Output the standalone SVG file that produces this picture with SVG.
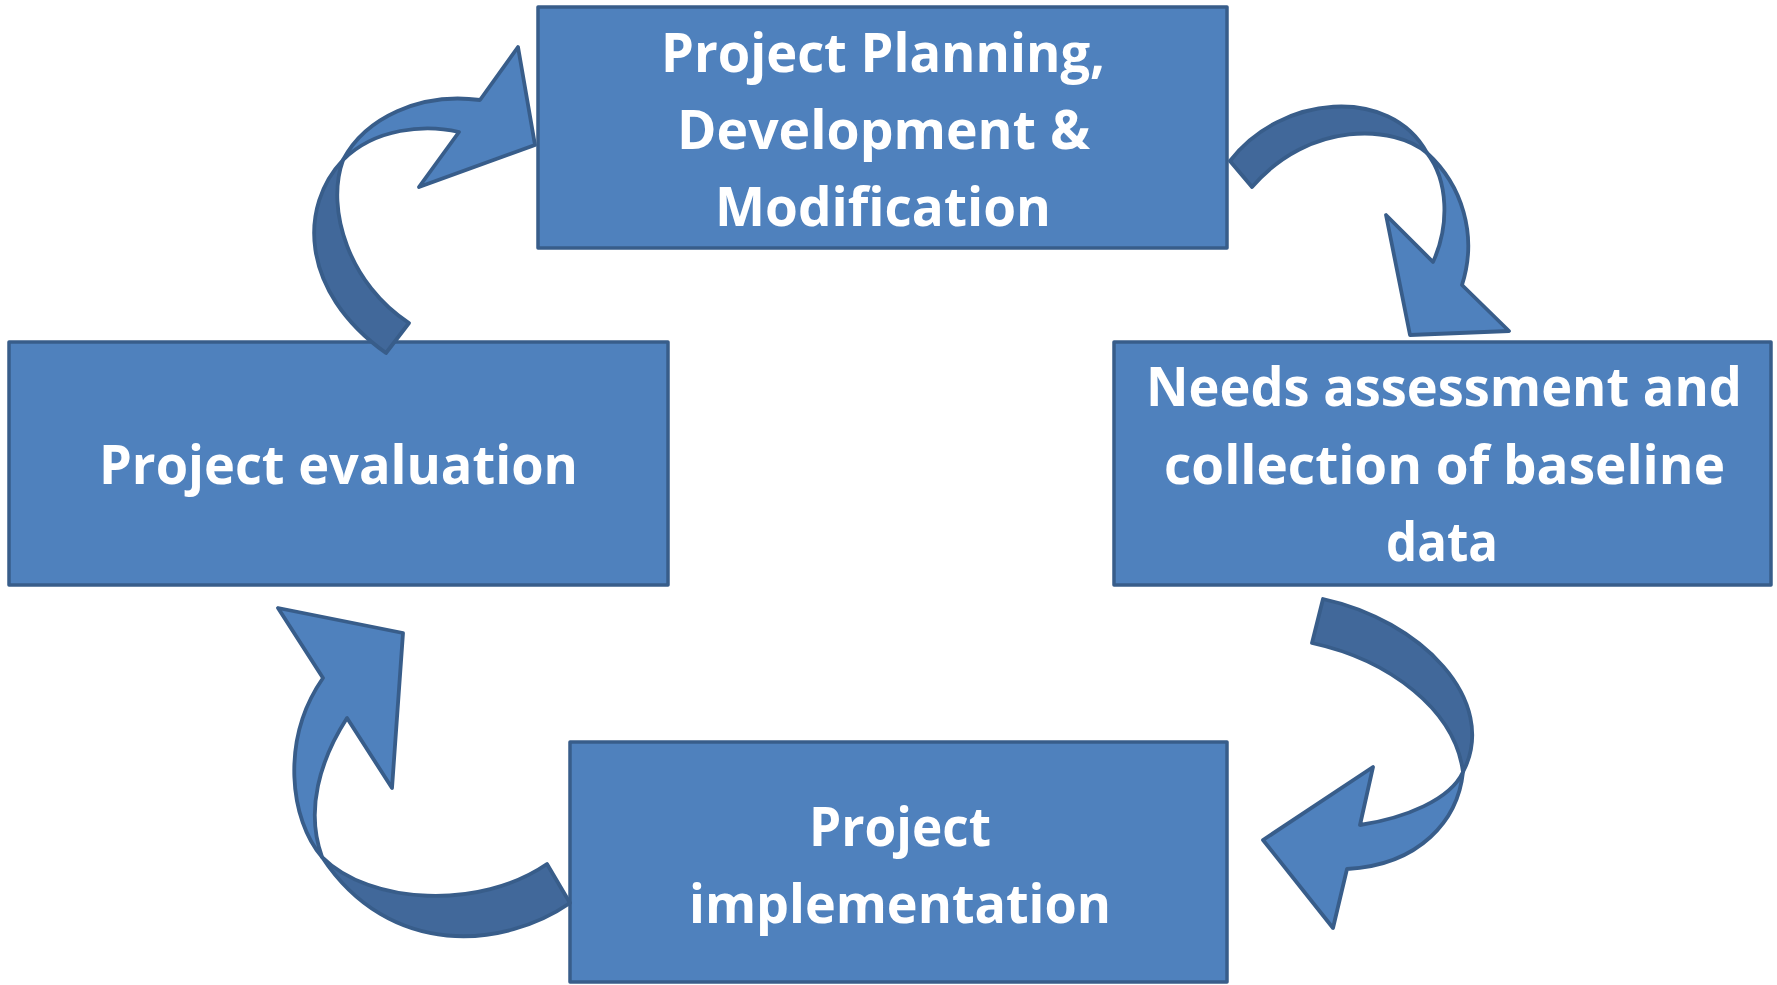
<svg xmlns="http://www.w3.org/2000/svg" width="1777" height="985" viewBox="0 0 1777 985">
<style>
.box{fill:#4F81BD;stroke:#385D8A;stroke-width:3.5;stroke-linejoin:round}
.lbl{font-family:"Open Sans","Liberation Sans",sans-serif;font-weight:700;font-size:53px;fill:#FFFFFF;text-anchor:middle}
.back{fill:#41689A;stroke:#385D8A;stroke-width:3.8;stroke-linejoin:round}
.front{fill:#4F81BD;stroke:#385D8A;stroke-width:3.8;stroke-linejoin:round}
</style>
<rect width="1777" height="985" fill="#FFFFFF"/>
<g id="node-planning">
<rect class="box" x="538" y="7" width="689" height="241"/>
<text class="lbl" x="883" y="72" textLength="444" lengthAdjust="spacingAndGlyphs">Project Planning,</text>
<text class="lbl" x="883.5" y="149" textLength="413" lengthAdjust="spacingAndGlyphs">Development &amp;</text>
<text class="lbl" x="883" y="226" textLength="336" lengthAdjust="spacingAndGlyphs">Modification</text>
</g>
<g id="node-needs">
<rect class="box" x="1114" y="342" width="657" height="243"/>
<text class="lbl" x="1444" y="406" textLength="596" lengthAdjust="spacingAndGlyphs">Needs assessment and</text>
<text class="lbl" x="1444.5" y="484" textLength="561" lengthAdjust="spacingAndGlyphs">collection of baseline</text>
<text class="lbl" x="1442" y="561" textLength="112" lengthAdjust="spacingAndGlyphs">data</text>
</g>
<g id="node-implementation">
<rect class="box" x="570" y="742" width="657" height="240"/>
<text class="lbl" x="900" y="846" textLength="182" lengthAdjust="spacingAndGlyphs">Project</text>
<text class="lbl" x="900" y="923" textLength="422" lengthAdjust="spacingAndGlyphs">implementation</text>
</g>
<g id="node-evaluation">
<rect class="box" x="9" y="342" width="659" height="243"/>
<text class="lbl" x="338.5" y="484" textLength="479" lengthAdjust="spacingAndGlyphs">Project evaluation</text>
</g>
<g id="connectors">
<g id="arrow-evaluation-planning">
<path class="back" d="M386,353 C298,290 300,205 343,160 C325,210 350,285 409,323 Z"/>
<path class="front" d="M343,160 C365,118 420,92 480,100 L518,47 L535,145 L419,187 L459,132 C425,124 375,128 343,160 Z"/>
</g>
<g id="arrow-planning-needs">
<path class="back" d="M1230,161 C1280,95 1390,85 1427,153 C1395,125 1310,120 1252,187 Z"/>
<path class="front" d="M1427,153 C1462,185 1478,235 1462,285 L1509,331 L1410,335 L1386,215 L1433,262 C1450,225 1448,180 1427,153 Z"/>
</g>
<g id="arrow-needs-implementation">
<path class="back" d="M1323,599 C1420,620 1500,700 1463,772 C1455,710 1390,660 1312,643 Z"/>
<path class="front" d="M1463,772 C1458,820 1420,865 1347,869 L1333,928 L1263,840 L1373,767 L1360,825 C1405,818 1450,800 1463,772 Z"/>
</g>
<g id="arrow-implementation-evaluation">
<path class="back" d="M570,903 C505,948 390,960 322,857 C370,905 480,910 547,864 Z"/>
<path class="front" d="M322,857 C290,820 280,740 323,678 L278,608 L403,633 L392,788 L347,718 C320,760 305,810 322,857 Z"/>
</g>
</g>
</svg>
